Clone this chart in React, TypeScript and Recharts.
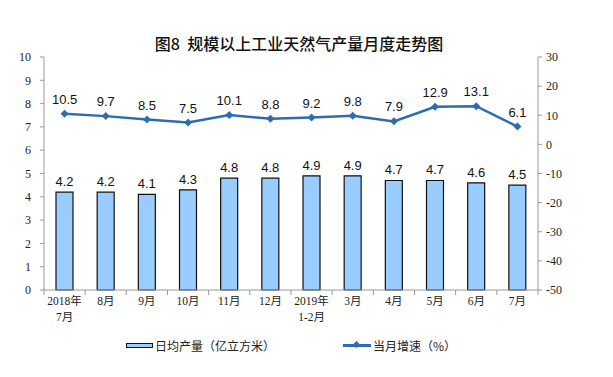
import React from "react";
import {
  ComposedChart,
  Bar,
  Line,
  XAxis,
  YAxis,
  LabelList,
  Legend,
} from "recharts";

// months (second line used for the two year-start labels)
const months = ["2018年|7月", "8月", "9月", "10月", "11月", "12月", "2019年|1-2月", "3月", "4月", "5月", "6月", "7月"];
const dailyOutput = [4.2, 4.2, 4.1, 4.3, 4.8, 4.8, 4.9, 4.9, 4.7, 4.7, 4.6, 4.5];
const growthRate = [10.5, 9.7, 8.5, 7.5, 10.1, 8.8, 9.2, 9.8, 7.9, 12.9, 13.1, 6.1];
const leftTicks = [0, 1, 2, 3, 4, 5, 6, 7, 8, 9, 10];
const rightTicks = [-50, -40, -30, -20, -10, 0, 10, 20, 30];

const data = months.map((m, i) => ({
  month: m,
  output: dailyOutput[i],
  growth: growthRate[i],
}));

const LINE_COLOR = "#2d6cb0";
const BAR_FILL = "#99ccff";
const SERIF = "'Liberation Serif', 'Times New Roman', serif";
const SANS = "'Liberation Sans', Arial, 'Noto Sans CJK SC', sans-serif";
const HALF_BAND = 20.6;

const MonthTick = (props: any) => {
  const { x, y, payload, index } = props;
  const lines = String(payload.value).split("|");
  return (
    <g transform={`translate(${x},${y})`}>
      {/* small marks on the category boundaries */}
      <line x1={-HALF_BAND} x2={-HALF_BAND} y1={-8} y2={-3} stroke="#999" />
      {index === months.length - 1 && (
        <line x1={HALF_BAND} x2={HALF_BAND} y1={-8} y2={-3} stroke="#999" />
      )}
      {lines.map((l, i) => (
        <text
          key={i}
          x={0}
          y={7 + i * 16}
          textAnchor="middle"
          fontSize={11.5}
          fill="#222"
          fontFamily={`${SERIF}, 'Noto Sans CJK SC'`}
        >
          {l}
        </text>
      ))}
    </g>
  );
};

const Diamond = (props: any) => {
  const { cx, cy } = props;
  if (cx == null || cy == null) return null;
  const r = 4;
  return (
    <path
      d={`M${cx},${cy - r}L${cx + r},${cy}L${cx},${cy + r}L${cx - r},${cy}Z`}
      fill={LINE_COLOR}
    />
  );
};

const LegendContent = () => (
  <div
    style={{
      display: "flex",
      fontFamily: "'Noto Sans CJK SC', sans-serif",
      fontSize: 12,
      color: "#222",
      paddingLeft: 112,
      alignItems: "center",
      height: 20,
    }}
  >
    <span style={{ display: "inline-block", width: 25, height: 3, background: BAR_FILL, border: "1px solid #111", marginRight: 2 }} />
    <span>日均产量（亿立方米）</span>
    <span style={{ display: "inline-block", width: 28, height: 3, background: LINE_COLOR, marginLeft: 68, marginRight: 2, position: "relative" }}>
      <span style={{ position: "absolute", left: 11, top: -2, width: 5, height: 5, background: LINE_COLOR, transform: "rotate(45deg)" }} />
    </span>
    <span>当月增速（%）</span>
  </div>
);

export default function App() {
  return (
    <div style={{ position: "absolute", left: 0, top: 0, width: 613, height: 377, background: "#fff" }}>
      <div
        style={{
          position: "absolute",
          top: 31,
          left: 0,
          width: 598,
          textAlign: "center",
          fontFamily: "'Noto Sans CJK SC', sans-serif",
          fontSize: 16,
          fontWeight: 500,
          color: "#111",
        }}
      >
        图8&nbsp;&nbsp;规模以上工业天然气产量月度走势图
      </div>
      <ComposedChart
        width={613}
        height={377}
        data={data}
        margin={{ top: 57, left: 14, right: 40, bottom: 37 }}
      >
        <XAxis
          dataKey="month"
          interval={0}
          tick={<MonthTick />}
          tickLine={false}
          axisLine={{ stroke: "#999" }}
          height={30}
        />
        <YAxis
          yAxisId="left"
          domain={[0, 10]}
          ticks={leftTicks}
          width={30}
          tickSize={4}
          tickMargin={9}
          axisLine={{ stroke: "#999" }}
          tickLine={{ stroke: "#999" }}
          tick={{ fontSize: 12, fill: "#222", fontFamily: SERIF }}
        />
        <YAxis
          yAxisId="right"
          orientation="right"
          domain={[-50, 30]}
          ticks={rightTicks}
          width={35}
          tickSize={4}
          tickMargin={4}
          axisLine={{ stroke: "#999" }}
          tickLine={{ stroke: "#999" }}
          tick={{ fontSize: 12, fill: "#222", fontFamily: SERIF }}
        />
        <Legend verticalAlign="bottom" content={<LegendContent />} wrapperStyle={{ bottom: 22 }} />
        <Bar
          yAxisId="left"
          dataKey="output"
          fill={BAR_FILL}
          stroke="#111"
          strokeWidth={1.2}
          barSize={17}
          isAnimationActive={false}
        >
          <LabelList dataKey="output" position="top" offset={6} fontSize={13} fill="#111" fontFamily={SANS} />
        </Bar>
        <Line
          yAxisId="right"
          dataKey="growth"
          stroke={LINE_COLOR}
          strokeWidth={2.5}
          dot={<Diamond />}
          activeDot={false}
          isAnimationActive={false}
        >
          <LabelList dataKey="growth" position="top" offset={10} fontSize={13} fill="#111" fontFamily={SANS} />
        </Line>
      </ComposedChart>
    </div>
  );
}
